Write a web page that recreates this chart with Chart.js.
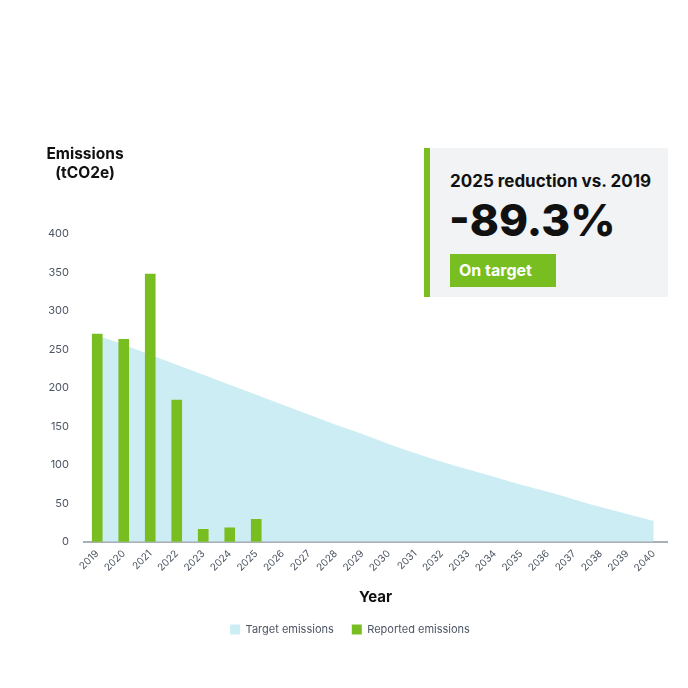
<!DOCTYPE html>
<html>
<head>
<meta charset="utf-8">
<script src="https://cdn.jsdelivr.net/npm/chart.js@4.4.1/dist/chart.umd.min.js"></script>
<style>
  body { margin: 0; background: #fff; font-family: Inter, "Open Sans", sans-serif; }
  #wrap { position: relative; width: 688px; height: 688px; }
  #yTitle { position: absolute; left: 44px; top: 144px; font-weight: 700; font-size: 15.5px; line-height: 19px; color: #111; text-align: center; width: 82px; }
  #box { position: absolute; left: 424px; top: 148px; width: 244px; height: 149px; background: #f1f3f5; }
  #box .bar { position: absolute; left: 0; top: 0; width: 6px; height: 100%; background: #78be20; }
  #box .head { position: absolute; left: 26px; top: 23px; font-weight: 700; font-size: 17px; color: #111; white-space: nowrap; }
  #box .big { position: absolute; left: 25px; top: 45px; font-weight: 800; font-size: 44px; color: #111; white-space: nowrap; }
  #box .badge { position: absolute; left: 26px; top: 106px; width: 106px; height: 33px; background: #78be20; color: #fff; font-weight: 700; font-size: 16px; line-height: 33px; text-indent: 9px; }
</style>
</head>
<body>
<div id="wrap">
  <canvas id="c" width="688" height="688"></canvas>
  <div id="yTitle">Emissions<br>(tCO2e)</div>
  <div id="box">
    <div class="bar"></div>
    <div class="head">2025 reduction vs. 2019</div>
    <div class="big">-89.3%</div>
    <div class="badge">On target</div>
  </div>
</div>
<script>
const years = ["2019", "2020", "2021", "2022", "2023", "2024", "2025", "2026", "2027", "2028", "2029",
  "2030", "2031", "2032", "2033", "2034", "2035", "2036", "2037", "2038", "2039", "2040"];
const targetEmissions = [268, 256, 243, 230, 217, 204, 191, 178, 165, 152, 140,
  127, 115, 104, 94, 84, 74, 65, 55, 45, 36, 27];
const reportedEmissions = [270, 263, 348, 184, 16, 18, 29, null, null, null, null,
  null, null, null, null, null, null, null, null, null, null, null];

const tickColor = "#4b5563";

new Chart(document.getElementById("c"), {
  type: "bar",
  data: {
    labels: years,
    datasets: [
      {
        type: "line",
        label: "Target emissions",
        data: targetEmissions,
        backgroundColor: "#cdedf4",
        borderColor: "#cdedf4",
        borderWidth: 0,
        pointRadius: 0,
        fill: "origin",
        cubicInterpolationMode: "monotone",
        order: 2,
      },
      {
        label: "Reported emissions",
        data: reportedEmissions,
        backgroundColor: "#78be20",
        barThickness: 10,
        order: 1,
      },
    ],
  },
  options: {
    responsive: false,
    animation: false,
    layout: {
      padding: { top: 234, left: 33, right: 21, bottom: 43 },
    },
    scales: {
      x: {
        grid: { display: false, drawTicks: false },
        border: { color: "#aab0b8", width: 2 },
        ticks: {
          color: tickColor,
          font: { family: "Inter", size: 10 },
          minRotation: 45,
          maxRotation: 45,
          padding: 6,
        },
        title: {
          display: true,
          text: "Year",
          color: "#111",
          font: { family: "Inter", size: 15, weight: "bold" },
          padding: { top: 8, bottom: 0 },
        },
      },
      y: {
        min: 0,
        max: 400,
        ticks: {
          stepSize: 50,
          color: tickColor,
          font: { family: "Inter", size: 11 },
          padding: 15,
        },
        grid: { display: false, drawTicks: false },
        border: { display: false },
      },
    },
    plugins: {
      legend: {
        position: "bottom",
        labels: {
          boxWidth: 10,
          boxHeight: 10,
          padding: 18,
          color: tickColor,
          font: { family: "Inter", size: 11 },
          sort: (a, b) => a.datasetIndex - b.datasetIndex,
        },
      },
      tooltip: { enabled: false },
    },
  },
});
</script>
</body>
</html>
